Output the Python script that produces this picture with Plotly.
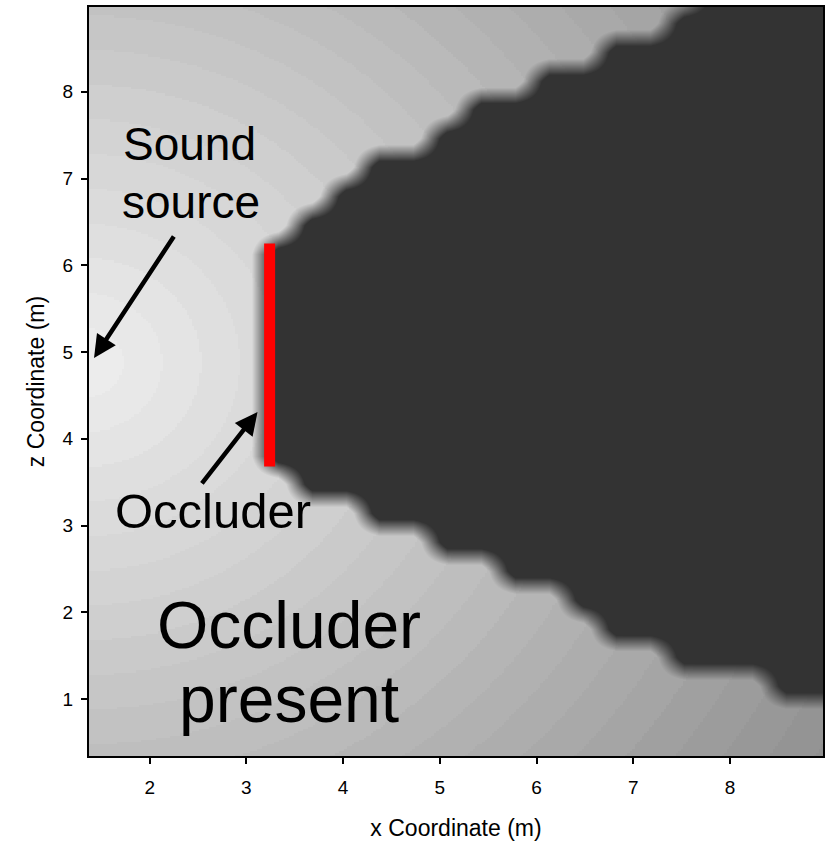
import numpy as np
import plotly.graph_objects as go

# ---------------- data ----------------
x_axis_range = [1.373, 8.96]
z_axis_range = [0.343, 8.977]
x_tick_vals = [2, 3, 4, 5, 6, 7, 8]
z_tick_vals = [1, 2, 3, 4, 5, 6, 7, 8]

# sound source position (m)
source_x = 1.33
source_z = 4.88

# outer radius (m) of each grey ring around the source, and the grey level of each ring
ring_outer_radius = [0.4, 0.8, 1.2, 1.6, 2.0, 2.4, 2.8, 3.2, 3.6, 4.0, 4.4,
                     4.8, 5.2, 5.6, 6.0, 6.4, 6.8, 7.2, 7.6, 8.0, 8.4, 8.8]
ring_grey = [236, 232, 228, 223, 219, 215, 211, 207, 202, 198, 194, 190,
             186, 181, 177, 173, 169, 165, 160, 156, 152, 148, 144]
shadow_grey = 51

# occluder (red bar)
occluder_x = [3.24, 3.24]
occluder_z = [3.68, 6.25]

# acoustic shadow edges
shadow_upper_x = [3.30, 4.10, 5.10, 6.30, 7.55, 8.30]
shadow_upper_z = [6.28, 7.02, 7.62, 8.32, 8.98, 9.45]
shadow_lower_x = [3.30, 4.03, 5.00, 6.32, 7.56, 8.96]
shadow_lower_z = [3.68, 3.22, 2.71, 2.06, 1.37, 0.90]

# ---------------- background field (rings) ----------------
step = 0.025
bx = np.arange(x_axis_range[0] - step, x_axis_range[1] + 2 * step, step)
bz = np.arange(z_axis_range[0] - step, z_axis_range[1] + 2 * step, step)
BX, BZ = np.meshgrid(bx, bz)
R = np.hypot(BX - source_x, BZ - source_z)
ring_idx = np.searchsorted(np.array(ring_outer_radius), R)
background = np.array(ring_grey, dtype=float)[ring_idx]

# ---------------- shadow mask on the simulation's coarse cells ----------------
cell_dx, cell_dz = 0.35, 0.3325
x0 = 3.15 - 7 * cell_dx
z0 = 3.64 - 12 * cell_dz
ncx = int(np.ceil((x_axis_range[1] - x0) / cell_dx)) + 2
ncz = int(np.ceil((z_axis_range[1] - z0) / cell_dz)) + 2
xc = x0 + (np.arange(ncx) + 0.5) * cell_dx
zc = z0 + (np.arange(ncz) + 0.5) * cell_dz
XC, ZC = np.meshgrid(xc, zc)
up = np.interp(XC, shadow_upper_x, shadow_upper_z)
lo = np.interp(XC, shadow_lower_x, shadow_lower_z)
mask = ((XC > occluder_x[0]) & (ZC <= up) & (ZC >= lo)).astype(float)

sg = f"{shadow_grey},{shadow_grey},{shadow_grey}"
fig = go.Figure()
fig.add_trace(go.Heatmap(
    x=bx, y=bz, z=background, zmin=0, zmax=255,
    colorscale=[[0, "rgb(0,0,0)"], [1, "rgb(255,255,255)"]],
    showscale=False, zsmooth=False, hoverinfo="skip"))
fig.add_trace(go.Heatmap(
    x=xc, y=zc, z=mask, zmin=0, zmax=1,
    colorscale=[[0, f"rgba({sg},0)"], [0.22, f"rgba({sg},0)"],
                [0.78, f"rgba({sg},1)"], [1, f"rgba({sg},1)"]],
    showscale=False, zsmooth="best", hoverinfo="skip"))
fig.add_trace(go.Scatter(
    x=occluder_x, y=occluder_z, mode="lines",
    line=dict(color="#ff0000", width=11), hoverinfo="skip", showlegend=False))

label_font = "Liberation Sans, Arial"
annotations = [
    dict(x=2.414, y=7.398, text="Sound", font=dict(size=46)),
    dict(x=2.43, y=6.729, text="source", font=dict(size=46)),
    dict(x=2.651, y=3.167, text="Occluder", font=dict(size=49)),
    dict(x=3.445, y=1.853, text="Occluder", font=dict(size=66)),
    dict(x=3.445, y=1.000, text="present", font=dict(size=66)),
]
for a in annotations:
    a.update(xref="x", yref="y", showarrow=False, xanchor="center", yanchor="middle")
    a["font"].update(family=label_font, color="black")

arrows = [
    dict(x=1.425, y=4.931, ax=2.260, ay=6.349),
    dict(x=3.115, y=4.308, ax=2.528, ay=3.467),
]
for a in arrows:
    a.update(xref="x", yref="y", axref="x", ayref="y", text="", showarrow=True,
             arrowhead=2, arrowsize=1, arrowwidth=4.5, arrowcolor="black")

fig.update_layout(
    width=828, height=841,
    margin=dict(l=89, r=3, t=7, b=85),
    paper_bgcolor="white", plot_bgcolor="white",
    showlegend=False,
    annotations=annotations + arrows,
)
axis_common = dict(
    showgrid=False, zeroline=False, showline=True, linecolor="black", linewidth=2,
    mirror=True, ticks="outside", ticklen=6, tickwidth=2, tickcolor="black",
    tickfont=dict(family="Liberation Sans, Arial", size=19, color="black"),
)
title_font = dict(family="Liberation Sans, Arial", size=23, color="black")
fig.update_xaxes(range=x_axis_range, tickvals=x_tick_vals, ticklabelstandoff=7,
                 title=dict(text="x Coordinate (m)", standoff=24, font=title_font),
                 **axis_common)
fig.update_yaxes(range=z_axis_range, tickvals=z_tick_vals, ticklabelstandoff=4,
                 title=dict(text="z Coordinate (m)", standoff=12, font=title_font),
                 **axis_common)

fig.write_html("out.html")
